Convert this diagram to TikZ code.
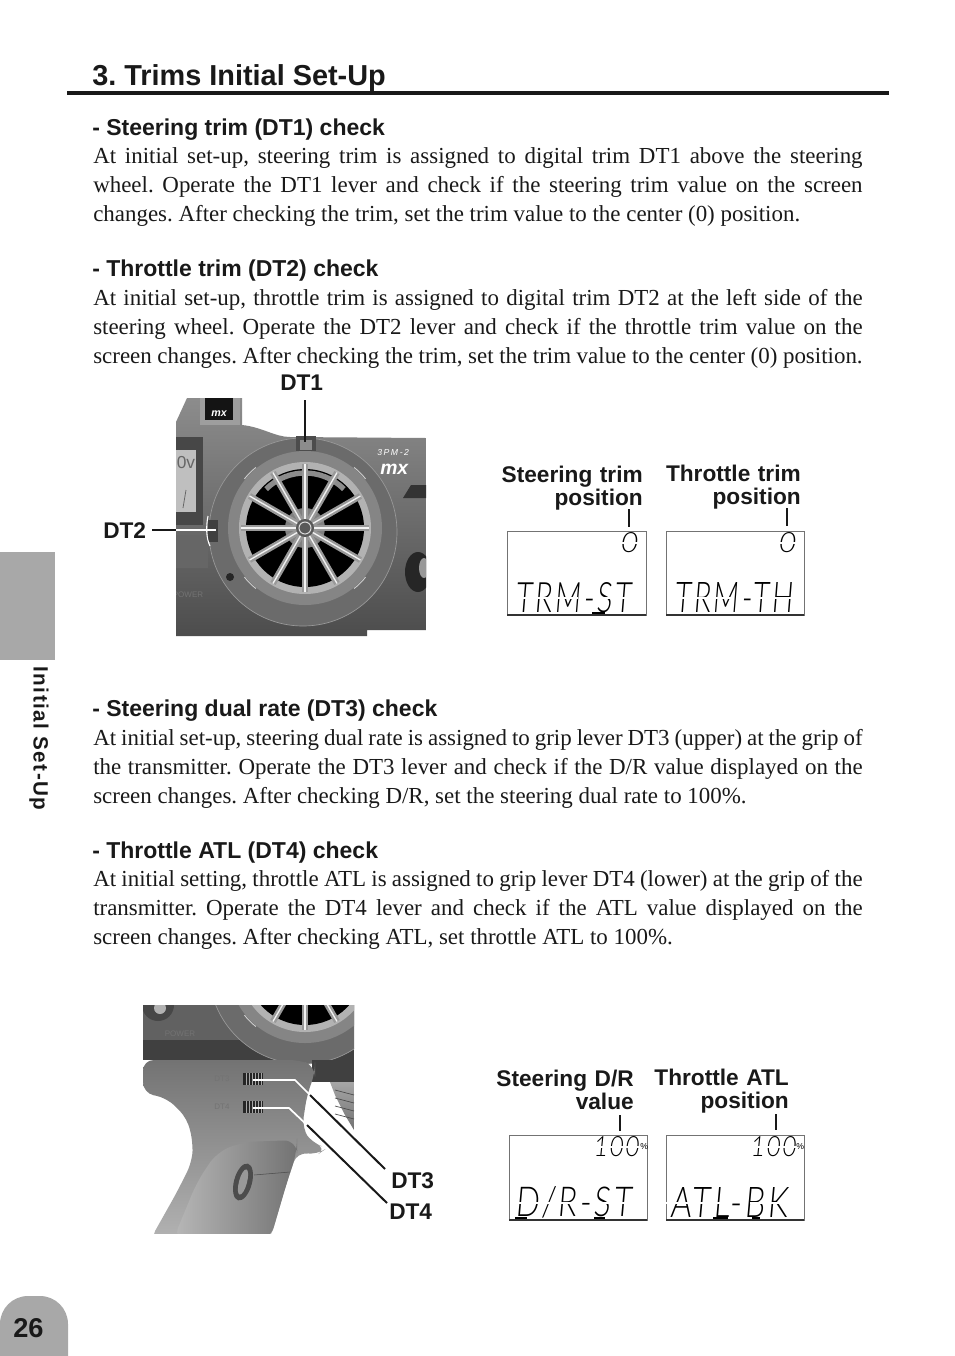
\documentclass[tikz,border=0pt]{standalone}
\usepackage{fontspec}
\usepackage{graphicx}
\setmainfont{Liberation Serif}
\setsansfont{Liberation Sans}
\newfontfamily\lcdfont[FakeSlant=0.12, LetterSpace=9]{Lato Light}
\frenchspacing
\usetikzlibrary{calc}

\tikzset{
	bodytext/.style={anchor=base west, inner sep=0pt, text width=577pt, align=justify, text=black!90, font=\fontsize{17.2}{21.75}\selectfont},
	headtext/.style={anchor=base west, inner sep=0pt, text=black!90, font=\sffamily\bfseries\fontsize{17.25}{21}\selectfont},
	labeltext/.style={anchor=base east, inner sep=0pt, text width=120pt, align=right, text=black!90, font=\sffamily\bfseries\fontsize{17}{17.25}\selectfont},
	dtlabel/.style={anchor=base west, inner sep=0pt, text=black!90, font=\sffamily\bfseries\fontsize{17}{20}\selectfont},
	leader/.style={black!90, line width=1.5pt},
	whiteleader/.style={white, line width=1.3pt},
	lcdbox/.style={draw=black!55, line width=0.7pt},
	lcdbottom/.style={black!80, line width=0.9pt},
	segbar/.style={black, line width=1.5pt},
	segcut/.style={white, line width=1.1pt},
	lcdtext/.style={anchor=south west, inner sep=0pt, text=black},
	phototext/.style={inner sep=0pt, text=black!55, font=\sffamily\fontsize{6}{7}\selectfont},
	spokeedge/.style={black!40, line width=4.6pt},
	spokecore/.style={black!5, line width=1pt},
	tabgray/.style={fill=black!34},
}

\newcommand{\steerwheel}[2]{
	\begin{scope}[shift={(#1,#2)}]
		\fill[black!58] (-2,4) circle(94);
		\draw[black!40, line width=0.5pt] (-2,4) circle(94);
		\fill[black!48] (0,0) circle(77);
		\fill[black!30] (0,0) circle(66);
		\fill[black] (0,0) circle(59);
		\draw[black!45, line width=4pt] (225:55) arc(225:315:55);
		\fill[black!50] (0,0) circle(20);
		\foreach \a in {0,30,...,330} {
			\draw[spokeedge] (\a:8) -- (\a:64);
			\draw[spokecore] (\a:8) -- (\a:64);
		}
		\foreach \a in {45,135,225,315} {
			\draw[black!20, line width=0.7pt] (\a-6:78) arc(\a-6:\a+6:78);
		}
		\fill[black!65] (0,0) circle(9);
		\draw[black!15, line width=0.8pt] (0,0) circle(6);
	\end{scope}
}

\begin{document}
\begin{tikzpicture}[x=0.75pt, y=-0.75pt]
	\useasboundingbox (0,0) rectangle (954,1356);
	\fill[white] (0,0) rectangle (954,1356);

	% side tabs
	\fill[tabgray] (0,552) rectangle (55,660);
	\fill[tabgray, rounded corners=21pt] (0,1400) -- (0,1296) -- (68,1296) -- (68,1400) -- cycle;
	\node[inner sep=0pt, rotate=-90, text=black!90, font=\sffamily\bfseries\fontsize{15.5}{18}\selectfont\addfontfeature{LetterSpace=7}] (sidelabel) at (39,738.5) {Initial Set-Up};
	\node[anchor=base west, inner sep=0pt, text=black!90, font=\sffamily\bfseries\fontsize{20.4}{24}\selectfont] (pagenum) at (13,1337) {26};

	% heading
	\node[anchor=base west, inner sep=0pt, text=black!90, font=\sffamily\bfseries\fontsize{21.65}{26}\selectfont] (title) at (92,85) {3. Trims Initial Set-Up};
	\draw[black!90, line width=3pt] (67,93) -- (889,93);

	% text blocks
	\node[headtext] (headdtone) at (92,135) {- Steering trim (DT1) check};
	\node[bodytext] (textdtone) at (93,163) {At initial set-up, steering trim is assigned to digital trim DT1 above the steering\linebreak wheel. Operate the DT1 lever and check if the steering trim value on the screen\linebreak changes. After checking the trim, set the trim value to the center (0) position.};
	\node[headtext] (headdttwo) at (92,276) {- Throttle trim (DT2) check};
	\node[bodytext] (textdttwo) at (93,305) {At initial set-up, throttle trim is assigned to digital trim DT2 at the left side of the\linebreak steering wheel. Operate the DT2 lever and check if the throttle trim value on the\linebreak screen changes. After checking the trim, set the trim value to the center (0) position.};
	\node[headtext] (headdtthree) at (92,716) {- Steering dual rate (DT3) check};
	\node[bodytext] (textdtthree) at (93,745) {At initial set-up, steering dual rate is assigned to grip lever DT3 (upper) at the grip of\linebreak the transmitter. Operate the DT3 lever and check if the D/R value displayed on the\linebreak screen changes. After checking D/R, set the steering dual rate to 100\%.};
	\node[headtext] (headdtfour) at (92,858) {- Throttle ATL (DT4) check};
	\node[bodytext] (textdtfour) at (93,886) {At initial setting, throttle ATL is assigned to grip lever DT4 (lower) at the grip of the\linebreak transmitter. Operate the DT4 lever and check if the ATL value displayed on the\linebreak screen changes. After checking ATL, set throttle ATL to 100\%.};

	% wheel photo
	\begin{scope}
		\clip (176,398) rectangle (426,636);
		\shade[top color=black!45, bottom color=black!70] (176,422) -- (187,398) -- (242,398) -- (242,425) .. controls (262,427) and (275,437) .. (290,437) -- (426,438) -- (426,630) -- (367,630) -- (367,636) -- (176,636) -- cycle;
		\fill[black!38] (200,398) rectangle (240,425);
		\fill[black!92] (205,398) rectangle (233,420);
		\node[inner sep=0pt, text=white, font=\sffamily\bfseries\itshape\fontsize{8}{9}\selectfont] (stickermx) at (219,414) {mx};
		\fill[black!72] (176,437) rectangle (203,525);
		\fill[black!25] (176,450) rectangle (196,512);
		\node[inner sep=0pt, text=black!60, font=\sffamily\fontsize{13}{14}\selectfont] (photozero) at (186,463) {0v};
		\draw[black!60, line width=0.6pt] (186,490) -- (183,508);
		\fill[black!60] (176,535) rectangle (208,568);
		\fill[black!80] (403,498) -- (411,485) -- (426,485) -- (426,498) -- cycle;
		\fill[black!85] (418,572) ellipse(13 and 20);
		\fill[black!40] (424,568) ellipse(5 and 10);
		\node[anchor=west, inner sep=0pt, text=white, font=\sffamily\itshape\fontsize{6.5}{7}\selectfont\addfontfeature{LetterSpace=18}] (photomodel) at (377,453) {3PM-2};
		\node[anchor=west, inner sep=0pt, text=white, font=\sffamily\bfseries\itshape\fontsize{14.5}{15}\selectfont] (photomx) at (380,469) {mx};
		\node[phototext] (photopower) at (188,595) {POWER};
		\steerwheel{305}{528}
		\fill[black!70] (296,436) rectangle (316,451);
		\fill[black!45] (300,440) rectangle (312,450);
		\fill[black!75] (208,520) rectangle (218,542);
		\fill[black!85] (230,577) circle(4);
		\draw[white, line width=0.8pt] (208,516) .. controls (206,526) and (206,538) .. (210,546);
	\end{scope}

	% grip photo
	\begin{scope}
		\clip (143,1005) rectangle (354,1233);
		\fill[black!62] (143,1005) rectangle (354,1040);
		\fill[black!75] (143,1040) rectangle (354,1060);
		\fill[black!72] (158,1005) circle(16);
		\fill[black!30] (160,1008) circle(6);
		\node[phototext] (gripower) at (180,1034) {POWER};
		\steerwheel{305}{966}
		\fill[black!75] (312,1060) rectangle (354,1082);
		\shade[top color=black!35, bottom color=black!55] (330,1082) -- (354,1082) -- (354,1130) -- (345,1115) -- (335,1095) -- cycle;
		\foreach \y in {1090,1098,...,1114} {
			\draw[black!70, line width=0.5pt] (335,\y) -- (354,\y+5);
		}
		\shade[rounded corners=8pt, top color=black!55, bottom color=black!30] (143,1060) -- (300,1060) -- (315,1066) -- (315,1073) -- (307,1095) -- (302,1128) -- (312,1143) -- (327,1148) -- (317,1155) -- (297,1152) -- (287,1182) -- (270,1240) -- (150,1240) -- (177,1192) -- (192,1162) -- (193,1142) -- (187,1118) -- (167,1098) -- (143,1093) -- cycle;
		\shade[rounded corners=10pt, left color=black!28, right color=black!55] (173,1240) -- (197,1182) -- (217,1152) -- (243,1142) -- (297,1140) -- (297,1152) -- (287,1182) -- (270,1240) -- cycle;
		\fill[black!70, rotate around={-15:(243,1182)}] (243,1182) ellipse(9 and 19);
		\fill[black!40, rotate around={-15:(243,1182)}] (243,1182) ellipse(4 and 13);
		\draw[black!70, line width=0.4pt] (254,1175) -- (290,1172);
		\foreach \y in {1073,1101} {
			\fill[black!85] (243,\y) rectangle (263,\y+12);
			\foreach \x in {246,249,...,261} {
				\draw[black!35, line width=0.5pt] (\x,\y) -- (\x,\y+12);
			}
		}
		\node[phototext] (gripdtthree) at (222,1079) {DT3};
		\node[phototext] (gripdtfour) at (222,1107) {DT4};
	\end{scope}

	% wheel leaders
	\node[dtlabel] (dtone) at (280,390) {DT1};
	\node[dtlabel] (dttwo) at (103,538) {DT2};
	\coordinate (dtonetop) at (305,400);
	\coordinate (dtoneend) at (305,442);
	\coordinate (dttwostart) at (152,530);
	\coordinate (dttwomid) at (176,530);
	\coordinate (dttwoend) at (216,530);
	\draw[leader] (dtonetop) -- (dtoneend);
	\draw[leader] (dttwostart) -- (dttwomid);
	\draw[whiteleader] (dttwomid) -- (dttwoend);

	% grip leaders
	\node[dtlabel] (dtthree) at (391,1188) {DT3};
	\node[dtlabel] (dtfour) at (389,1219) {DT4};
	\coordinate (dtthreeswitch) at (253,1080);
	\coordinate (dtthreebend) at (295,1080);
	\coordinate (dtthreemid) at (310,1095);
	\coordinate (dtthreeend) at (385,1169);
	\coordinate (dtfourswitch) at (253,1108);
	\coordinate (dtfourbend) at (289,1108);
	\coordinate (dtfourmid) at (307,1125);
	\coordinate (dtfourend) at (387,1203);
	\draw[whiteleader] (dtthreeswitch) -- (dtthreebend) -- (dtthreemid);
	\draw[leader] (dtthreemid) -- (dtthreeend);
	\draw[whiteleader] (dtfourswitch) -- (dtfourbend) -- (dtfourmid);
	\draw[leader] (dtfourmid) -- (dtfourend);

	% trim screens
	\draw[lcdbox] (507,531) rectangle (646,615);
	\draw[lcdbottom] (507,615) -- (646,615);
	\draw[lcdbox] (666,531) rectangle (804,615);
	\draw[lcdbottom] (666,615) -- (804,615);
	\node[labeltext] (labelst) at (643,482) {Steering trim\\position};
	\node[labeltext] (labelth) at (801,481) {Throttle trim\\position};
	\coordinate (labelstend) at (629,527);
	\coordinate (labelststart) at (629,509);
	\coordinate (labelthend) at (787,526);
	\coordinate (labelthstart) at (787,508);
	\draw[leader, line width=1.2pt] (labelststart) -- (labelstend);
	\draw[leader, line width=1.2pt] (labelthstart) -- (labelthend);
	\node[lcdtext] (valuest) at (620,553) {\resizebox{12.5pt}{15pt}{\lcdfont 0}};
	\node[lcdtext] (valueth) at (778,553) {\resizebox{12.5pt}{15pt}{\lcdfont 0}};
	\node[lcdtext] (screenst) at (515,613) {\resizebox{87pt}{22.5pt}{\lcdfont TRM-ST}};
	\node[lcdtext] (screenth) at (674,613) {\resizebox{89pt}{22.5pt}{\lcdfont TRM-TH}};
	\draw[segcut] (616,543) -- (640,543);
	\draw[segcut] (774,543) -- (798,543);
	\draw[segcut] (510,598) -- (578,598);
	\draw[segcut] (594,598) -- (636,598);
	\draw[segcut] (670,598) -- (734,598);
	\draw[segcut] (752,598) -- (798,598);
	\draw[segbar] (592,613) -- (605,613);

	% rate screens
	\draw[lcdbox] (509,1135) rectangle (647,1220);
	\draw[lcdbottom] (509,1220) -- (647,1220);
	\draw[lcdbox] (666,1135) rectangle (804,1220);
	\draw[lcdbottom] (666,1220) -- (804,1220);
	\node[labeltext] (labeldr) at (634,1086) {Steering D/R\\value};
	\node[labeltext] (labelatl) at (789,1085) {Throttle ATL\\position};
	\coordinate (labeldrstart) at (620,1115);
	\coordinate (labeldrend) at (620,1131);
	\coordinate (labelatlstart) at (776,1114);
	\coordinate (labelatlend) at (776,1130);
	\draw[leader, line width=1.2pt] (labeldrstart) -- (labeldrend);
	\draw[leader, line width=1.2pt] (labelatlstart) -- (labelatlend);
	\node[lcdtext] (valuedr) at (593,1157) {\resizebox{34pt}{15pt}{\lcdfont 100}};
	\node[lcdtext] (valueatl) at (750,1157) {\resizebox{34pt}{15pt}{\lcdfont 100}};
	\node[lcdtext, font=\sffamily\fontsize{6.5}{7}\selectfont] (percentdr) at (640,1150) {\%};
	\node[lcdtext, font=\sffamily\fontsize{6.5}{7}\selectfont] (percentatl) at (796,1150) {\%};
	\node[lcdtext] (screendr) at (515,1218) {\resizebox{87pt}{22.5pt}{\lcdfont D/R-ST}};
	\node[lcdtext] (screenatl) at (670,1218) {\resizebox{88pt}{22.5pt}{\lcdfont ATL-BK}};
	\draw[segcut] (589,1147) -- (640,1147);
	\draw[segcut] (746,1147) -- (796,1147);
	\draw[segcut] (511,1203) -- (578,1203);
	\draw[segcut] (594,1203) -- (636,1203);
	\draw[segcut] (666,1203) -- (732,1203);
	\draw[segcut] (750,1203) -- (792,1203);
	\draw[segbar] (515,1218) -- (527,1218);
	\draw[segbar] (594,1218) -- (605,1218);
	\draw[segbar] (713,1218) -- (728,1218);
	\draw[segbar] (752,1218) -- (760,1218);
\end{tikzpicture}
\end{document}
